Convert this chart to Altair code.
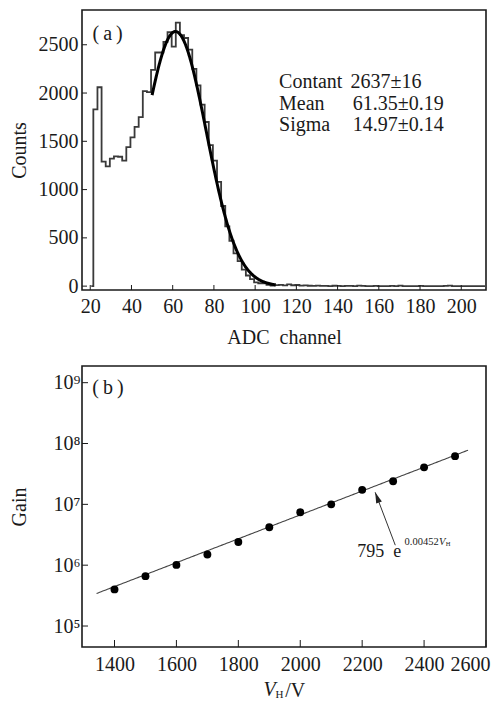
import altair as alt
import pandas as pd

FONT = "Liberation Serif"
INK = "#1a1a1a"

# ---------------- panel (a): ADC spectrum ----------------
bin_start = 21.5
bin_width = 2.0
hist_counts = [1830, 2060, 1290, 1240, 1320, 1345, 1340, 1300, 1440, 1540,
               1650, 1750, 2020, 2010, 2240, 2420, 2420, 2530, 2630, 2480,
               2730, 2600, 2570, 2450, 2250, 2080, 1880, 1700, 1460, 1300,
               1080, 830, 620, 470, 340, 260, 170, 110, 72, 40,
               30, 28, 14, 6, 10, 14, 8, 18, 9, 12,
               6, 8, 4, 3, 5, 2, 3, 1, 4, 2,
               1, 3, 2, 1, 6, 2, 1, 0, 2, 1,
               0, 1, 2, 0, 5, 1, 0, 1, 0, 2,
               0, 1, 0, 1, 0, 2, 6, 1, 0, 1,
               0, 1, 0, 1, 0]
gauss_const, gauss_mean, gauss_sigma = 2637, 61.35, 14.97
fit_a_from, fit_a_to = 50, 110
adc_ticks = [20, 40, 60, 80, 100, 120, 140, 160, 180, 200]
count_ticks = [0, 500, 1000, 1500, 2000, 2500]
stat_names = ["Contant", "Mean", "Sigma"]
stat_values = ["2637±16", "61.35±0.19", "14.97±0.14"]

# ---------------- panel (b): gain vs voltage ----------------
voltages = [1400, 1500, 1600, 1700, 1800, 1900, 2000, 2100, 2200, 2300, 2400, 2500]
gains = [4.0e5, 6.6e5, 1.01e6, 1.5e6, 2.4e6, 4.2e6, 7.4e6, 1.0e7, 1.73e7, 2.4e7, 4.06e7, 6.2e7]
fit_b_amp, fit_b_rate = 795, 0.00452
fit_b_from, fit_b_to = 1342, 2543
volt_ticks = [1400, 1600, 1800, 2000, 2200, 2400, 2600]
gain_ticks = [1e5, 1e6, 1e7, 1e8, 1e9]

W = 404
HA = 280
HB = 281

# ---------- panel (a) ----------
xs_a = alt.Scale(domain=[16, 212], nice=False, zero=False)
ys_a = alt.Scale(domain=[-40, 2860], nice=False, zero=False)
xax_a = alt.Axis(values=adc_ticks, title="ADC\u2002channel", format="d", labelOverlap=False,
                 labelPadding=6, titlePadding=11)
yax_a = alt.Axis(values=count_ticks, title="Counts", format="d", labelOverlap=False,
                 labelPadding=4, titlePadding=5, minExtent=48, maxExtent=48)


def XA(f):
    return alt.X(f, scale=xs_a, axis=xax_a)


def YA(f):
    return alt.Y(f, scale=ys_a, axis=yax_a)


edges = [bin_start + i * bin_width for i in range(len(hist_counts) + 1)]
hist_df = pd.DataFrame({
    "ch": [bin_start - 1.0] + edges,
    "cnt": [0] + hist_counts + [hist_counts[-1]],
})
hist_df["i"] = range(len(hist_df))

hist = alt.Chart(hist_df).mark_line(
    interpolate="step-after", color="#3a3a3a", strokeWidth=1.8
).encode(x=XA("ch:Q"), y=YA("cnt:Q"), order="i:Q")

fit_a = alt.Chart(alt.sequence(fit_a_from, fit_a_to + 0.25, 0.25, as_="ch")).transform_calculate(
    cnt=f"{gauss_const}*exp(-pow(datum.ch-{gauss_mean},2)/(2*{gauss_sigma}*{gauss_sigma}))"
).mark_line(color="#000000", strokeWidth=3).encode(x=XA("ch:Q"), y=YA("cnt:Q"))

xt_a = alt.Chart(pd.DataFrame({"ch": adc_ticks})).mark_rule(color=INK, strokeWidth=1).encode(
    x=XA("ch:Q"), y=alt.value(HA), y2=alt.value(HA - 5))
yt_a = alt.Chart(pd.DataFrame({"cnt": count_ticks})).mark_rule(color=INK, strokeWidth=1).encode(
    y=YA("cnt:Q"), x=alt.value(0), x2=alt.value(5))


def txt(df, X, Y, **kw):
    return alt.Chart(df).mark_text(font=FONT, color=INK, align="left", baseline="middle", **kw).encode(
        x=X("x:Q"), y=Y("y:Q"), text="t:N")


stats_df = pd.DataFrame({
    "x": [111.6, 111.6, 111.6, 146.3, 147.4, 147.4],
    "y": [2110, 1889, 1668, 2110, 1889, 1668],
    "t": stat_names + stat_values,
})
stats = txt(stats_df, XA, YA, fontSize=20)
label_a = txt(pd.DataFrame({"x": [21.1], "y": [2610], "t": ["(\u2009a\u2009)"]}), XA, YA, fontSize=20)

top = alt.layer(hist, fit_a, xt_a, yt_a, stats, label_a).properties(width=W, height=HA)

# ---------- panel (b) ----------
xs_b = alt.Scale(domain=[1295, 2600], nice=False, zero=False)
ys_b = alt.Scale(type="log", domain=[4.52e4, 1.88e9], nice=False)
sup = "['\u2070','\u00b9','\u00b2','\u00b3','\u2074','\u2075','\u2076','\u2077','\u2078','\u2079']"
xax_b = alt.Axis(values=volt_ticks, title=None, format="d", labelOverlap=False,
                 labelPadding=7, labelFlushOffset=4)
yax_b = alt.Axis(values=gain_ticks, title="Gain", labelOverlap=False,
                 labelExpr=f"'10' + {sup}[round(log(datum.value)/LN10)]",
                 labelPadding=2, titlePadding=5, minExtent=48, maxExtent=48)


def XB(f):
    return alt.X(f, scale=xs_b, axis=xax_b)


def YB(f):
    return alt.Y(f, scale=ys_b, axis=yax_b)


pts = alt.Chart(pd.DataFrame({"x": voltages, "y": gains})).mark_circle(
    color="#000000", size=62, opacity=1
).encode(x=XB("x:Q"), y=YB("y:Q"))

fit_b = alt.Chart(alt.sequence(fit_b_from, fit_b_to + 1, 5, as_="x")).transform_calculate(
    y=f"{fit_b_amp}*exp({fit_b_rate}*datum.x)"
).mark_line(color="#444444", strokeWidth=1.1).encode(x=XB("x:Q"), y=YB("y:Q"))

arrow_df = pd.DataFrame({"x": [2307], "y": [2.13e6], "x2": [2242], "y2": [1.58e7]})
arrow = alt.Chart(arrow_df).mark_rule(color="#333333", strokeWidth=1).encode(
    x=XB("x:Q"), y=YB("y:Q"), x2="x2:Q", y2="y2:Q")
head = alt.Chart(arrow_df).mark_point(
    shape="M0,0 L0.55,2 L-0.55,2 Z", filled=True, size=121, angle=339.4,
    color="#222222", opacity=1, strokeWidth=0
).encode(x=XB("x2:Q"), y=YB("y2:Q"))

ann_main = txt(pd.DataFrame({"x": [2184], "y": [1.66e6], "t": ["795\u2002e"]}), XB, YB, fontSize=18)
ann_exp = txt(pd.DataFrame({"x": [2337], "y": [2.45e6], "t": ["0.00452"]}), XB, YB, fontSize=10.5)
ann_v = txt(pd.DataFrame({"x": [2448], "y": [2.45e6], "t": ["V"]}), XB, YB, fontSize=10.5, fontStyle="italic")
ann_h = txt(pd.DataFrame({"x": [2470], "y": [2.21e6], "t": ["H"]}), XB, YB, fontSize=6.5)
label_b = txt(pd.DataFrame({"x": [1328], "y": [8.3e8], "t": ["(\u2009b\u2009)"]}), XB, YB, fontSize=20)

xt_b = alt.Chart(pd.DataFrame({"x": volt_ticks})).mark_rule(color=INK, strokeWidth=1).encode(
    x=XB("x:Q"), y=alt.value(HB), y2=alt.value(HB - 7))
yt_b = alt.Chart(pd.DataFrame({"y": gain_ticks})).mark_rule(color=INK, strokeWidth=1).encode(
    y=YB("y:Q"), x=alt.value(0), x2=alt.value(6))

one = pd.DataFrame({"a": [0]})
tit_v = alt.Chart(one).mark_text(text="V", font=FONT, fontSize=20, fontStyle="italic", color=INK,
                                 align="left", baseline="middle").encode(
    x=alt.value(181.6), y=alt.value(HB + 43))
tit_h = alt.Chart(one).mark_text(text="H", font=FONT, fontSize=11, color=INK,
                                 align="left", baseline="middle").encode(
    x=alt.value(193.5), y=alt.value(HB + 47.5))
tit_s = alt.Chart(one).mark_text(text="/V", font=FONT, fontSize=20, color=INK,
                                 align="left", baseline="middle").encode(
    x=alt.value(203.3), y=alt.value(HB + 43.5))

bottom = alt.layer(fit_b, pts, arrow, head, ann_main, ann_exp, ann_v, ann_h, label_b,
                   xt_b, yt_b, tit_v, tit_h, tit_s).properties(width=W, height=HB)

chart = alt.vconcat(top, bottom, spacing=17).properties(
    padding={"left": 0, "top": 1, "right": 0, "bottom": 0}
).configure_axis(
    labelFont=FONT, titleFont=FONT, labelFontSize=20, titleFontSize=20,
    labelColor=INK, titleColor=INK, titleFontWeight="normal",
    ticks=False, domain=False, grid=False,
).configure_view(stroke=INK, strokeWidth=1.6)

chart.save("out.html", embed_options={"renderer": "svg", "actions": False})
